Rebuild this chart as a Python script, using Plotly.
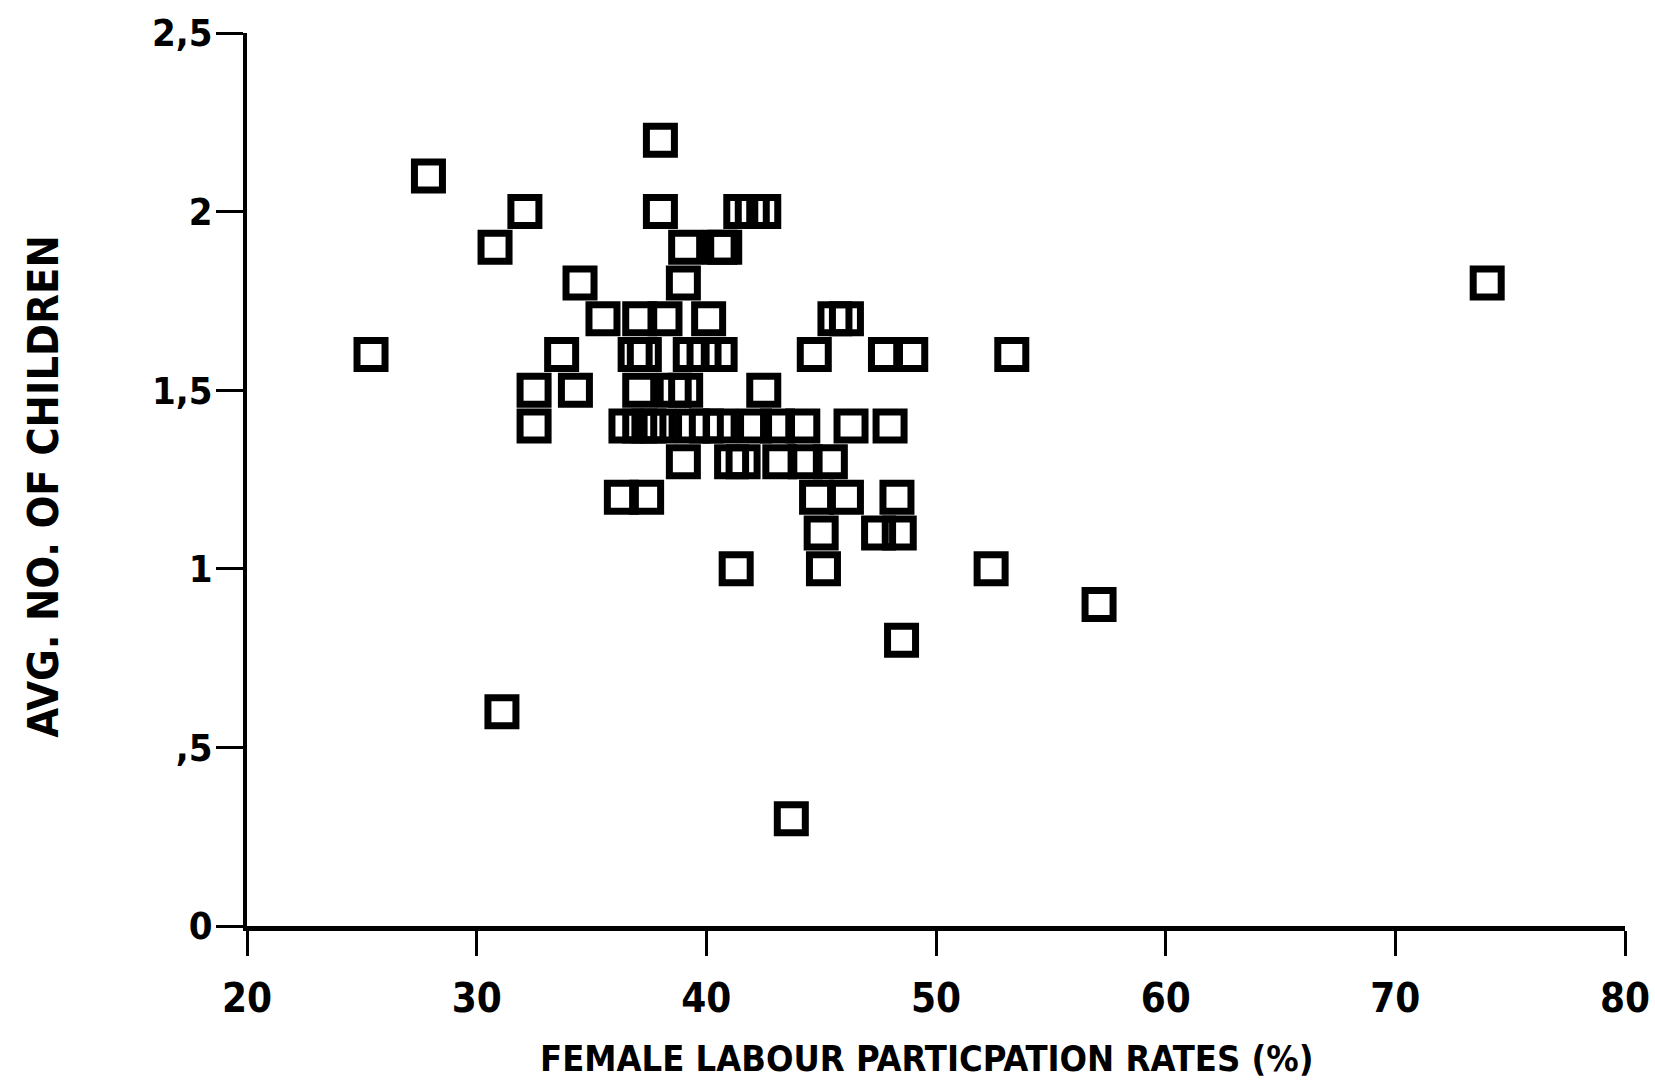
import plotly.graph_objects as go

# Female labour participation rate (%) and average number of children
x_rates = [25.4, 27.9, 30.8, 32.1, 32.5, 32.5, 31.1, 33.7, 34.5, 34.3, 35.5,
           38.0, 38.0, 41.5, 42.0, 42.5,
           39.1, 40.6, 40.8,
           39.0,
           37.1, 38.2, 40.1, 45.6, 46.1,
           36.9, 37.3, 39.3, 39.9, 40.6, 44.7, 47.8, 48.9, 53.3,
           37.1, 38.6, 39.1, 42.5,
           36.5, 37.1, 37.5, 37.9, 39.4, 40.0, 40.6, 42.1, 43.1, 44.2, 46.3, 48.0,
           39.0, 41.1, 41.6, 43.2, 44.3, 45.4,
           36.3, 37.4, 44.8, 46.1, 48.3,
           45.0, 47.5, 48.4,
           41.3, 45.1, 52.4,
           57.1, 48.5, 43.7, 74.0]
y_children = [1.6, 2.1, 1.9, 2.0, 1.5, 1.4, 0.6, 1.6, 1.8, 1.5, 1.7,
              2.2, 2.0, 2.0, 2.0, 2.0,
              1.9, 1.9, 1.9,
              1.8,
              1.7, 1.7, 1.7, 1.7, 1.7,
              1.6, 1.6, 1.6, 1.6, 1.6, 1.6, 1.6, 1.6, 1.6,
              1.5, 1.5, 1.5, 1.5,
              1.4, 1.4, 1.4, 1.4, 1.4, 1.4, 1.4, 1.4, 1.4, 1.4, 1.4, 1.4,
              1.3, 1.3, 1.3, 1.3, 1.3, 1.3,
              1.2, 1.2, 1.2, 1.2, 1.2,
              1.1, 1.1, 1.1,
              1.0, 1.0, 1.0,
              0.9, 0.8, 0.3, 1.8]

x_tickvals = [20, 30, 40, 50, 60, 70, 80]
x_ticktext = ["20", "30", "40", "50", "60", "70", "80"]
y_tickvals = [0, 0.5, 1, 1.5, 2, 2.5]
y_ticktext = ["0", ",5", "1", "1,5", "2", "2,5"]

x_title = "FEMALE LABOUR PARTICPATION RATES (%)"
y_title = "AVG. NO. OF CHILDREN"

FONT = "DejaVu Sans Condensed, DejaVu Sans, sans-serif"

fig = go.Figure()
fig.add_trace(go.Scatter(
    x=x_rates, y=y_children, mode="markers",
    marker=dict(symbol="square-open", size=28, color="black",
                line=dict(width=7, color="black")),
    showlegend=False, hoverinfo="x+y",
))

fig.update_layout(
    width=1655, height=1083,
    margin=dict(l=247, r=30, t=33, b=157),
    paper_bgcolor="white", plot_bgcolor="white",
    font=dict(family=FONT, color="black"),
    annotations=[
        dict(text="<b>" + x_title + "</b>", xref="paper", yref="paper",
             x=0.4935, y=-0.148, xanchor="center", yanchor="middle",
             showarrow=False, font=dict(family=FONT, size=36, color="black")),
        dict(text="<b>" + y_title + "</b>", xref="paper", yref="paper",
             x=-0.1486, y=0.492, xanchor="center", yanchor="middle",
             textangle=-90, showarrow=False,
             font=dict(family=FONT, size=43, color="black")),
    ],
)
fig.update_xaxes(
    range=[20, 80], tickvals=x_tickvals,
    ticktext=["<b>" + t + "</b>" for t in x_ticktext],
    showgrid=False, zeroline=False, automargin=False,
    showline=True, linewidth=5, linecolor="black",
    ticks="outside", ticklen=25, tickwidth=3, tickcolor="black",
    tickfont=dict(family=FONT, size=40, color="black"),
    ticklabeloverflow="allow", ticklabelstandoff=8,
)
fig.update_yaxes(
    range=[0, 2.5], tickvals=y_tickvals,
    ticktext=["<b>" + t + "</b>" for t in y_ticktext],
    showgrid=False, zeroline=False, automargin=False,
    showline=True, linewidth=3.5, linecolor="black",
    ticks="outside", ticklen=27, tickwidth=3, tickcolor="black",
    tickfont=dict(family=FONT, size=38, color="black"),
    ticklabelstandoff=-4,
)

fig.write_html("out.html")
